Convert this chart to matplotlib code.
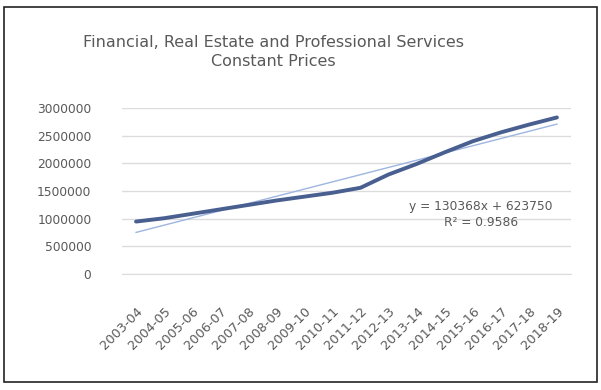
import numpy as np
import matplotlib.pyplot as plt
from matplotlib.patches import Rectangle

# ── Data ───────────────────────────────────────────────────────────────────────
years = ["2003-04", "2004-05", "2005-06", "2006-07", "2007-08", "2008-09",
         "2009-10", "2010-11", "2011-12", "2012-13", "2013-14", "2014-15",
         "2015-16", "2016-17", "2017-18", "2018-19"]
output_constant = [950000, 1010000, 1090000, 1170000, 1250000, 1330000,
                   1400000, 1470000, 1560000, 1800000, 1990000, 2200000,
                   2400000, 2560000, 2700000, 2830000]
y_ticks = [0, 500000, 1000000, 1500000, 2000000, 2500000, 3000000]

# ── Linear trendline (x = 1..n, as in a spreadsheet) ──────────────────────────
x = np.arange(1, len(years) + 1)
y = np.array(output_constant, dtype=float)
slope, intercept = np.polyfit(x, y, 1)
trend = slope * x + intercept
r2 = 1 - np.sum((y - trend) ** 2) / np.sum((y - y.mean()) ** 2)

# ── Figure ─────────────────────────────────────────────────────────────────────
fig = plt.figure(figsize=(6.01, 3.90), dpi=100)
fig.patches.append(Rectangle((0.006, 0.02), 0.988, 0.962, transform=fig.transFigure,
                             fill=False, edgecolor="#222222", linewidth=1.2))
ax = fig.add_axes([0.203, 0.297, 0.747, 0.426])

ax.plot(x, trend, color="#9db5e0", linewidth=1.0, zorder=2)
ax.plot(x, y, color="#485f90", linewidth=2.8, solid_capstyle="round", zorder=3)

ax.set_xlim(0.5, len(years) + 0.5)
ax.set_ylim(0, 3000000)
ax.set_yticks(y_ticks)
ax.set_yticklabels([str(v) for v in y_ticks])
ax.set_xticks(x)
ax.set_xticklabels(years, rotation=45, ha="right", rotation_mode="anchor")

ax.grid(axis="y", color="#dcdcdc", linewidth=1.0)
ax.set_axisbelow(True)
for side in ["top", "right", "left"]:
    ax.spines[side].set_visible(False)
ax.spines["bottom"].set_color("#dcdcdc")
ax.tick_params(axis="both", length=0, colors="#595959", labelsize=8.8)
ax.tick_params(axis="x", labelsize=9.3, pad=22)
ax.tick_params(axis="y", pad=22)

fig.text(0.455, 0.866, "Financial, Real Estate and Professional Services\nConstant Prices",
         ha="center", va="center", fontsize=11.5, color="#595959", linespacing=1.3)

ax.text(0.80, 0.36, f"y = {slope:.0f}x + {intercept:.0f}\nR² = {r2:.4f}",
        transform=ax.transAxes, ha="center", va="center", fontsize=8.8,
        color="#595959", linespacing=1.25)

fig.savefig("out.png", dpi=100)
